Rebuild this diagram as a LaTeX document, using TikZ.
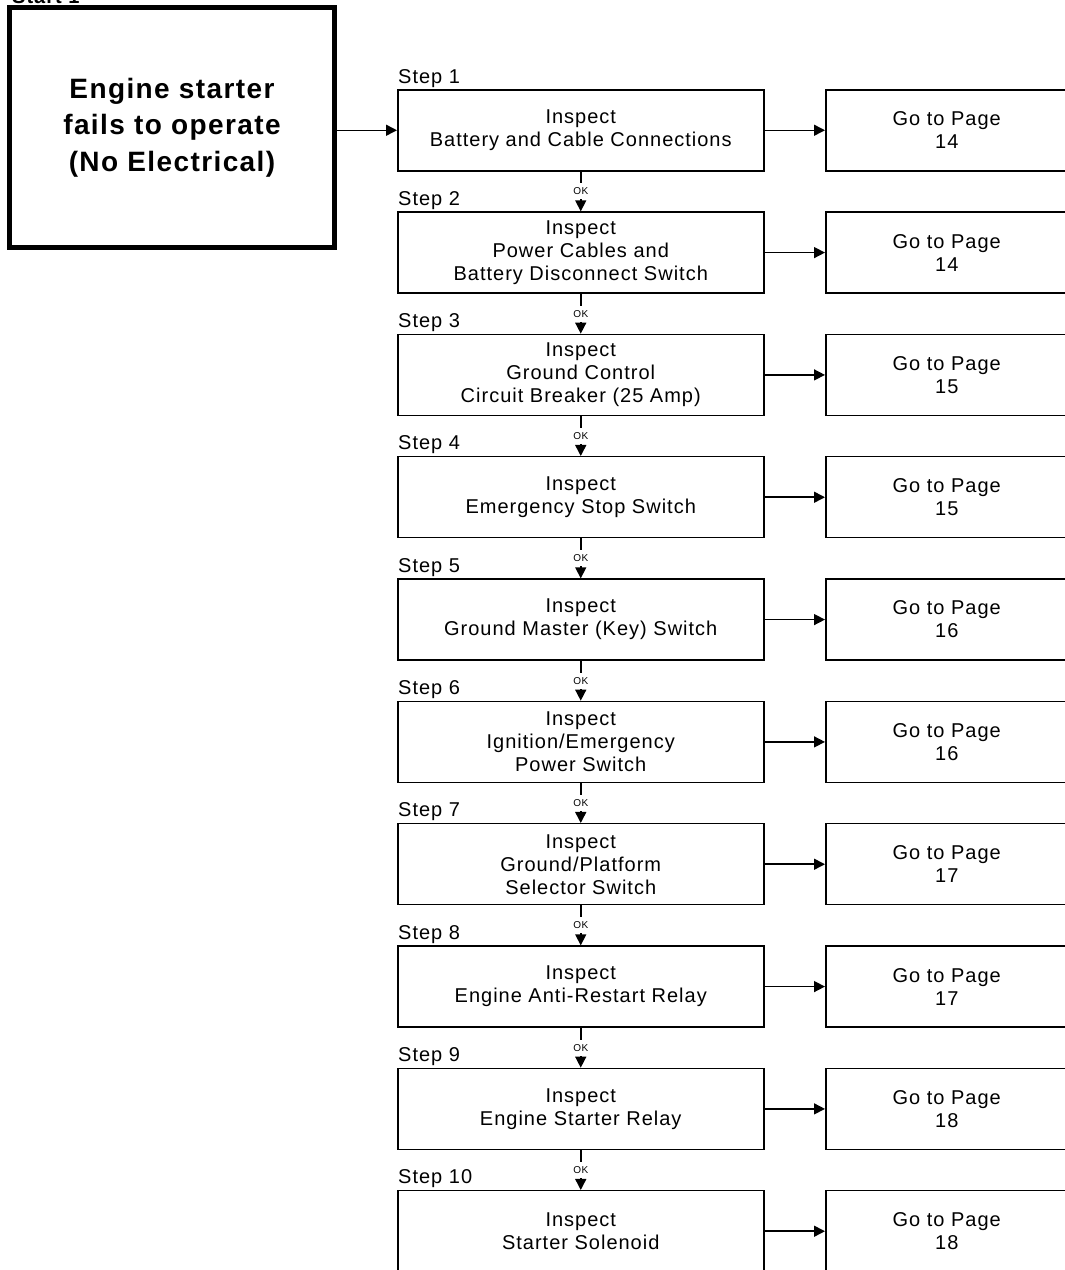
\documentclass[tikz,border=0pt]{standalone}
\usepackage{fontspec}
\setmainfont{Liberation Sans}[LetterSpace=5]
\usetikzlibrary{arrows.meta}
\begin{document}
\begin{tikzpicture}[x=1pt,y=-1pt,
  box/.style={draw, line width=1.5pt, rectangle, inner sep=0pt, align=center,
    font=\fontsize{20}{23}\selectfont},
  stepbox/.style={box, minimum width=366pt, minimum height=81pt, anchor=north west},
  pagebox/.style={box, minimum width=242pt, minimum height=81pt, anchor=north west},
  arr/.style={line width=1.5pt, -{Triangle[length=11pt,width=11pt]}},
  oklab/.style={fill=white, font=\fontsize{10}{10}\selectfont, inner sep=0pt,
    minimum height=16pt, minimum width=13pt},
  steplab/.style={anchor=base west, inner sep=0pt, font=\fontsize{20}{20}\selectfont},
  startbox/.style={draw, line width=4.5pt, minimum width=325pt, minimum height=240pt,
    align=center, inner sep=0pt, font=\bfseries\fontsize{28}{36.5}\selectfont}]
\useasboundingbox (0,0) rectangle (1065,1270);
\clip (0,0) rectangle (1065,1270);

\node[anchor=base west, inner sep=0pt, font=\bfseries\fontsize{20}{20}\selectfont] (chart) at (12,3) {Start 1};

\node[startbox] (start) at (172,127.5) {Engine starter\\fails to operate\\(No Electrical)};

\foreach \i/\txt/\pg in {
  1/{Inspect\\Battery and Cable Connections}/14,
  2/{Inspect\\Power Cables and\\Battery Disconnect Switch}/14,
  3/{Inspect\\Ground Control\\Circuit Breaker (25 Amp)}/15,
  4/{Inspect\\Emergency Stop Switch}/15,
  5/{Inspect\\Ground Master (Key) Switch}/16,
  6/{Inspect\\Ignition/Emergency\\Power Switch}/16,
  7/{Inspect\\Ground/Platform\\Selector Switch}/17,
  8/{Inspect\\Engine Anti-Restart Relay}/17,
  9/{Inspect\\Engine Starter Relay}/18,
  10/{Inspect\\Starter Solenoid}/18}{
  \pgfmathsetmacro{\top}{89+(\i-1)*122.33}
  \node[stepbox] (s\i) at (397,\top) {\txt};
  \node[pagebox] (p\i) at (825,\top) {Go to Page\\\pg};
  \node[steplab] (l\i) at ([xshift=1pt,yshift=6pt]s\i.north west) {Step \i};
  \draw[arr] (s\i.east) -- (p\i.west);
}
\draw[arr] (start.east |- s1.west) -- (s1.west);
\foreach \i [evaluate=\i as \j using int(\i+1)] in {1,...,9}{
  \draw[arr] (s\i.south) -- node[oklab] {OK} (s\j.north);
}
\end{tikzpicture}
\end{document}
